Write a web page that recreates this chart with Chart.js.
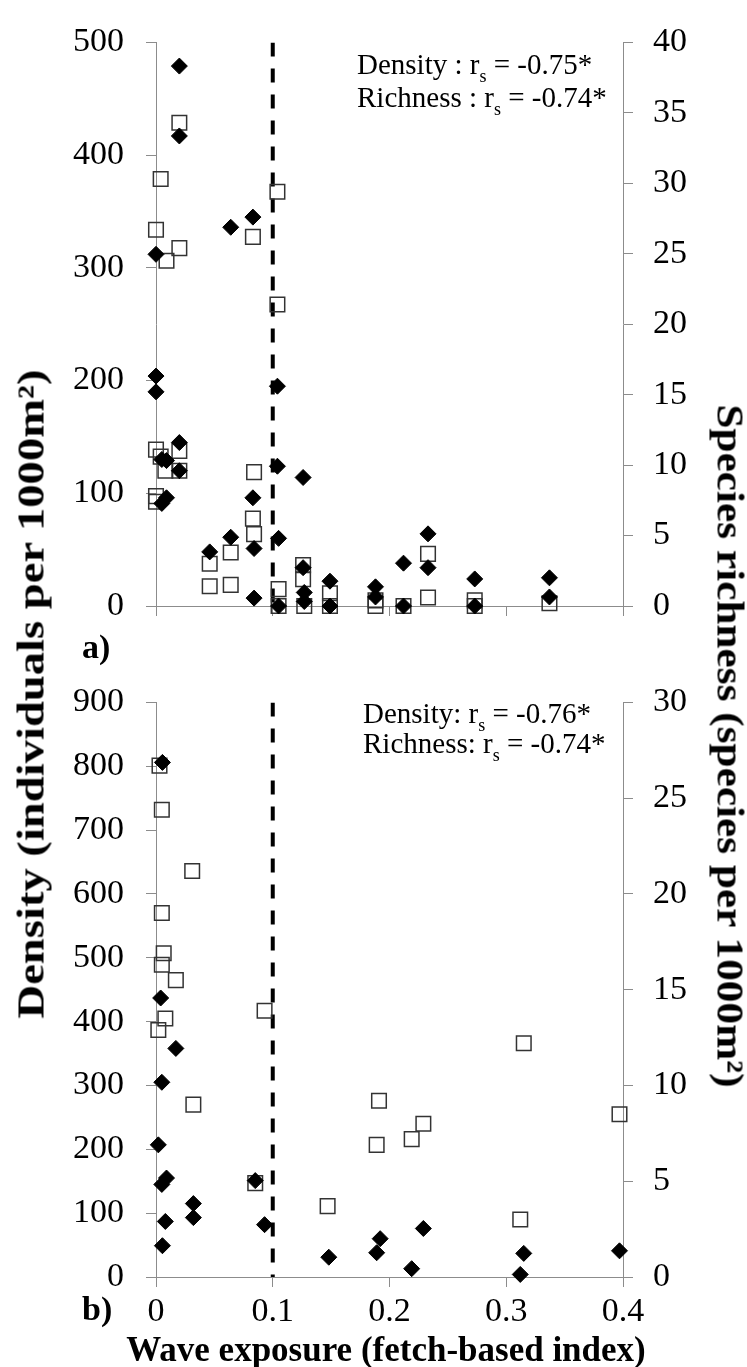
<!DOCTYPE html>
<html>
<head>
<meta charset="utf-8">
<script src="https://cdn.jsdelivr.net/npm/chart.js@4.4.1/dist/chart.umd.min.js"></script>
<style>
  body { margin: 0; background: #fff; }
  #fig { position: relative; width: 747px; height: 1367px; overflow: hidden;
         font-family: 'Liberation Serif', 'Times New Roman', serif; color: #000; }
  #fig canvas { position: absolute; left: 0; }
  .txt { position: absolute; white-space: nowrap; line-height: 1; }
  .note { font-size: 29px; }
  .note sub { font-size: 18px; vertical-align: -8px; line-height: 0; }
  .bold { font-weight: bold; }
  .vt { position: absolute; white-space: nowrap; line-height: 1; font-weight: bold; font-size: 37px; }
</style>
</head>
<body>
<div id="fig">
  <canvas id="chartA" width="747" height="660" style="top:0"></canvas>
  <canvas id="chartB" width="747" height="707" style="top:660px"></canvas>

  <div class="txt note" style="left:357px; top:50px;">Density : r<sub>s</sub> = -0.75*</div>
  <div class="txt note" style="left:357px; top:83px;">Richness : r<sub>s</sub> = -0.74*</div>
  <div class="txt note" style="left:363px; top:699px;">Density: r<sub>s</sub> = -0.76*</div>
  <div class="txt note" style="left:363px; top:729px;">Richness: r<sub>s</sub> = -0.74*</div>

  <div class="txt bold" style="left:82px; top:630px; font-size:34px;">a)</div>
  <div class="txt bold" style="left:82px; top:1292px; font-size:34px;">b)</div>

  <div class="vt" style="left:31px; top:694px; transform: translate(-50%,-50%) rotate(-90deg) scaleX(1.26);">Density (individuals per 1000m²)</div>
  <div class="vt" style="left:730px; top:746px; transform: translate(-50%,-50%) rotate(90deg) scaleX(1.17);">Species richness (species per 1000m²)</div>
  <div class="vt" style="left:386px; top:1349px; font-size:35px; transform: translate(-50%,-50%);">Wave exposure (fetch-based index)</div>
</div>

<script>
// panel a) - density (left axis) and richness (right axis)
const aDensX = [0.020, 0.020, 0, 0, 0, 0.005, 0.005, 0.009, 0.009, 0.020, 0.020, 0.046, 0.064, 0.064,
  0.083, 0.083, 0.084, 0.084, 0.104, 0.104, 0.105, 0.105, 0.126, 0.126, 0.127, 0.127,
  0.149, 0.149, 0.188, 0.188, 0.212, 0.212, 0.233, 0.233, 0.273, 0.273, 0.337, 0.337];
const aDensY = [479, 417, 312, 204, 190, 130, 91, 129, 96, 145, 120, 48, 336, 61,
  345, 96, 51, 7, 195, 124, 60, 0, 114, 34, 12, 4,
  22, 0, 17, 8, 38, 0, 64, 34, 24, 0, 25, 8];

const aRichX = [0.004, 0, 0.020, 0.020, 0.009, 0, 0.020, 0.004, 0.008, 0.020, 0, 0,
  0.046, 0.046, 0.064, 0.064, 0.083, 0.083, 0.084, 0.084, 0.104, 0.104, 0.105, 0.105,
  0.126, 0.126, 0.127, 0.149, 0.149, 0.188, 0.188, 0.212, 0.233, 0.233, 0.273, 0.273, 0.337];
const aRichY = [30.3, 26.7, 34.3, 25.4, 24.5, 11.1, 11.0, 10.6, 9.6, 9.6, 7.8, 7.4,
  3.0, 1.4, 3.8, 1.5, 26.2, 6.2, 9.5, 5.1, 29.4, 21.4, 1.2, 0,
  2.9, 1.9, 0, 0.9, 0, 0.4, 0, 0, 3.7, 0.6, 0.4, 0, 0.2];

// panel b)
const bDensX = [0.0055, 0.004, 0.017, 0.005, 0.002, 0.009, 0.005, 0.085, 0.032, 0.032, 0.008,
  0.093, 0.0055, 0.192, 0.189, 0.148, 0.229, 0.219, 0.315, 0.312, 0.397];
const bDensY = [806, 437, 358, 305, 207, 155, 145, 151, 115, 93, 87,
  82, 49, 60, 38, 31, 76, 13, 37, 4, 41];

const bRichX = [0.003, 0.005, 0.031, 0.005, 0.0066, 0.005, 0.017, 0.008, 0.002, 0.093,
  0.032, 0.191, 0.189, 0.085, 0.147, 0.229, 0.219, 0.315, 0.397, 0.312];
const bRichY = [26.7, 24.4, 21.2, 19.0, 16.9, 16.3, 15.5, 13.5, 12.9, 13.9,
  9.0, 9.2, 6.9, 4.9, 3.7, 8.0, 7.2, 12.2, 8.5, 3.0];

// x-axis and the exposure threshold
const xMin = 0, xMax = 0.4, xStep = 0.1;
const cutoffX = 0.1;

Chart.defaults.font.family = "'Liberation Serif', 'Times New Roman', serif";
Chart.defaults.font.size = 34;
Chart.defaults.color = '#000';

const axisGray = '#8c8c8c';

function toPts(xs, ys) {
  return xs.map((x, i) => ({ x: x, y: ys[i] }));
}

function yAxis(position, max, step, width, pad) {
  return {
    type: 'linear',
    position: position,
    min: 0,
    max: max,
    ticks: { stepSize: step, padding: pad, autoSkip: false },
    grid: { drawOnChartArea: false, tickLength: 10, color: axisGray, tickColor: axisGray },
    border: { color: axisGray, width: 1 },
    afterFit: s => { s.width = width; }
  };
}

function xAxis(showLabels, height) {
  return {
    type: 'linear',
    position: 'bottom',
    min: xMin,
    max: xMax,
    ticks: {
      display: showLabels,
      stepSize: xStep,
      padding: 5,
      autoSkip: false,
      maxRotation: 0,
      callback: v => (v === 0 ? '0' : v.toFixed(1))
    },
    grid: { drawOnChartArea: false, tickLength: 10, color: axisGray, tickColor: axisGray },
    border: { color: axisGray, width: 1 },
    afterFit: s => { s.height = height; }
  };
}

function makePanel(id, densX, densY, richX, richY, densMax, densStep, richMax, topPad, xHeight, showX) {
  const ctx = document.getElementById(id).getContext('2d');
  return new Chart(ctx, {
    type: 'scatter',
    data: {
      datasets: [
        {
          label: 'Density',
          data: toPts(densX, densY),
          yAxisID: 'yL',
          pointStyle: 'rectRot',
          pointRadius: 8,
          backgroundColor: '#000',
          borderColor: '#000',
          borderWidth: 1,
          clip: false,
          order: 0
        },
        {
          label: 'Species richness',
          data: toPts(richX, richY),
          yAxisID: 'yR',
          pointStyle: 'rect',
          pointRadius: 10.3,
          backgroundColor: 'rgba(0,0,0,0)',
          borderColor: '#333',
          borderWidth: 1.5,
          clip: false,
          order: 1
        },
        {
          type: 'line',
          label: 'threshold',
          data: [{ x: cutoffX, y: densMax }, { x: cutoffX, y: 0 }],
          yAxisID: 'yL',
          borderColor: '#000',
          borderWidth: 4,
          borderDash: [14, 12],
          pointRadius: 0,
          fill: false,
          order: 2
        }
      ]
    },
    options: {
      responsive: false,
      animation: false,
      events: [],
      layout: { padding: { top: topPad, left: 0, right: 0, bottom: 0 } },
      plugins: { legend: { display: false }, tooltip: { enabled: false } },
      scales: {
        x: xAxis(showX, xHeight),
        yL: yAxis('left', densMax, densStep, 156, 22),
        yR: yAxis('right', richMax, 5, 124, 20)
      }
    }
  });
}

makePanel('chartA', aDensX, aDensY, aRichX, aRichY, 500, 100, 40, 26, 54, false);
makePanel('chartB', bDensX, bDensY, bRichX, bRichY, 900, 100, 30, 41, 90, true);
</script>
</body>
</html>
